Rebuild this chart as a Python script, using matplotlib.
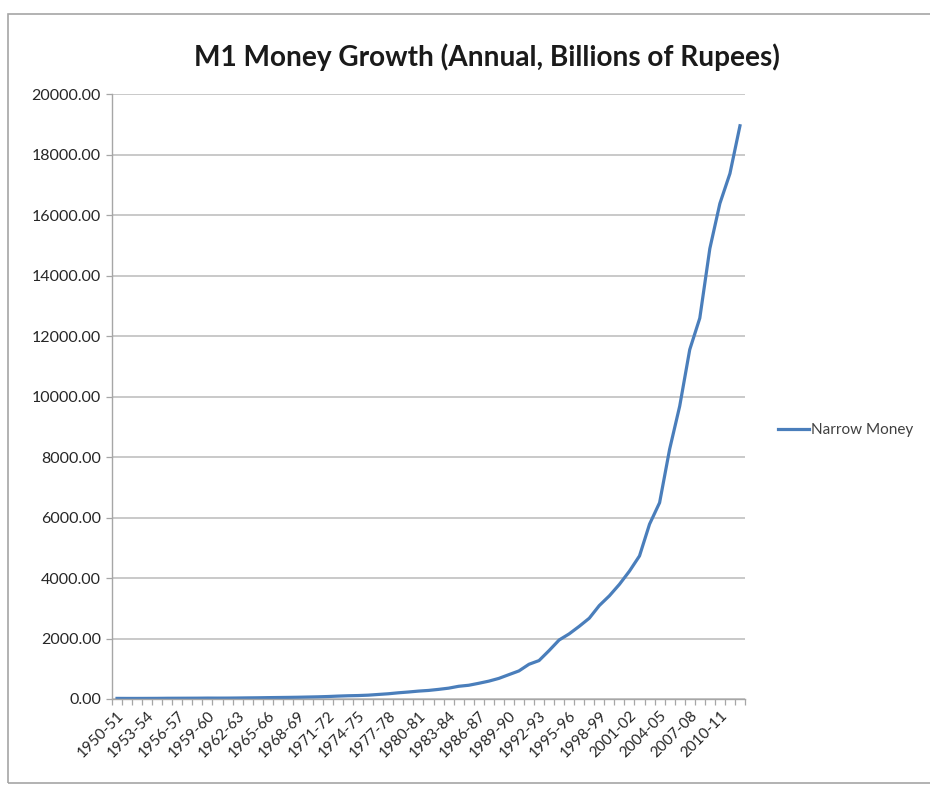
import matplotlib
matplotlib.use("Agg")
import matplotlib.pyplot as plt
from matplotlib.patches import Rectangle
import numpy as np

years = [f"{y}-{str(y + 1)[-2:]}" for y in range(1950, 2013)]
narrow_money = [
    20, 19, 19, 20, 21, 24, 25, 26, 27, 30,
    29, 30, 33, 37, 40, 45, 49, 53, 58, 65,
    72, 82, 96, 107, 114, 127, 150, 173, 205, 231,
    261, 283, 318, 358, 420, 454, 519, 590, 681, 805,
    928, 1148, 1270, 1600, 1950, 2153, 2402, 2670, 3090, 3410,
    3790, 4227, 4730, 5780, 6490, 8260, 9680, 11550, 12590, 14890,
    16380, 17370, 18950,
]
title = "M1 Money Growth (Annual, Billions of Rupees)"
series_name = "Narrow Money"

plt.rcParams['font.family'] = ['Lato', 'DejaVu Sans']

W, H = 930, 787
fig = plt.figure(figsize=(W / 100, H / 100), dpi=100)
fig.patch.set_facecolor('white')

# outer chart border
fig.patches.append(Rectangle((8 / W, 4 / H), 1.2, (783 - 14) / H, transform=fig.transFigure,
                             fill=False, edgecolor='#a6a6a6', linewidth=1.2))

ax = fig.add_axes([112 / W, 1 - 699 / H, (745 - 112) / W, (699 - 94) / H])
x = np.arange(len(years))
line, = ax.plot(x, narrow_money, color='#4a7ebb', linewidth=2.3, label=series_name)

ax.set_xlim(-0.5, len(years) - 0.5)
ax.set_ylim(0, 20000)
yt = np.arange(0, 20001, 2000)
ax.set_yticks(yt)
ax.set_yticklabels([f"{v:.2f}" for v in yt], fontsize=11.5, color='#262626')
ax.yaxis.grid(True, color='#c0c0c0', linewidth=1.2)
ax.set_axisbelow(True)

# category boundaries as ticks, labels every 3 categories
ax.set_xticks(np.arange(-0.5, len(years), 1.0), minor=True)
ax.set_xticks(x[::3])
ax.set_xticklabels(years[::3], rotation=45, ha='right', rotation_mode='anchor',
                   fontsize=11, color='#262626')
ax.tick_params(axis='x', which='major', length=0, pad=7)
ax.tick_params(axis='x', which='minor', length=4, color='#a6a6a6', width=0.9)
ax.tick_params(axis='y', length=4, color='#a6a6a6', width=0.9, pad=4)

for s in ['top', 'right']:
    ax.spines[s].set_visible(False)
for s in ['left', 'bottom']:
    ax.spines[s].set_color('#a6a6a6')
    ax.spines[s].set_linewidth(1.0)

fig.text(487 / W, 1 - 57 / H, title, ha='center', va='center', fontsize=20.2,
         fontweight='bold', color='#1a1a1a')

leg = fig.legend(handles=[line], loc='center left', bbox_to_anchor=(772 / W, 1 - 430 / H),
                 frameon=False, fontsize=11, handlelength=2.0, handletextpad=0.15,
                 borderaxespad=0)
for t in leg.get_texts():
    t.set_color('#404040')

fig.savefig('out.png', dpi=100, facecolor='white')
